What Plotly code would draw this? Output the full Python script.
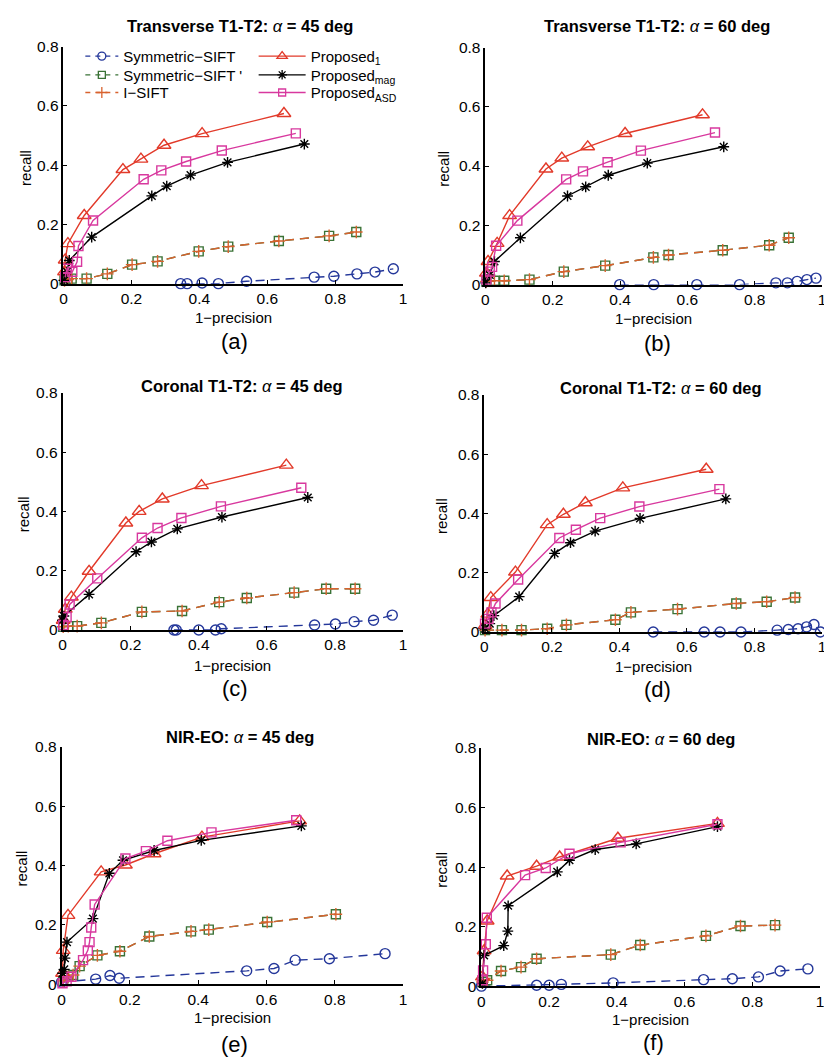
import plotly.graph_objects as go

# ---------------- data ----------------
# panel (a) Transverse T1-T2, 45 deg
a_sym_x = [0.345, 0.364, 0.408, 0.456, 0.539, 0.738, 0.796, 0.864, 0.917, 0.971]
a_sym_y = [0.0, 0.0, 0.002, 0.0, 0.008, 0.022, 0.025, 0.033, 0.039, 0.05]
a_isift_x = [0.003, 0.012, 0.024, 0.068, 0.129, 0.202, 0.277, 0.398, 0.485, 0.634, 0.782, 0.862]
a_isift_y = [0.011, 0.014, 0.017, 0.017, 0.033, 0.064, 0.075, 0.109, 0.125, 0.144, 0.161, 0.174]
a_p1_x = [0.003, 0.005, 0.013, 0.061, 0.175, 0.228, 0.296, 0.408, 0.649]
a_p1_y = [0.04, 0.08, 0.135, 0.23, 0.385, 0.42, 0.467, 0.506, 0.574]
a_mag_x = [0.002, 0.010, 0.017, 0.083, 0.26, 0.304, 0.374, 0.483, 0.709]
a_mag_y = [0.011, 0.04, 0.078, 0.157, 0.296, 0.329, 0.366, 0.409, 0.471]
a_asd_x = [0.005, 0.01, 0.026, 0.04, 0.044, 0.087, 0.236, 0.288, 0.361, 0.466, 0.684]
a_asd_y = [0.022, 0.05, 0.04, 0.074, 0.127, 0.213, 0.352, 0.382, 0.412, 0.449, 0.507]

# panel (b) Transverse T1-T2, 60 deg
b_sym_x = [0.399, 0.5, 0.628, 0.755, 0.863, 0.897, 0.926, 0.955, 0.982]
b_sym_y = [0.0, 0.0, 0.0, 0.0, 0.006, 0.006, 0.011, 0.017, 0.022]
b_isift_x = [0.003, 0.027, 0.056, 0.131, 0.233, 0.356, 0.499, 0.544, 0.705, 0.843, 0.901]
b_isift_y = [0.011, 0.013, 0.013, 0.017, 0.044, 0.064, 0.092, 0.1, 0.116, 0.133, 0.158]
b_p1_x = [0.003, 0.008, 0.035, 0.072, 0.18, 0.227, 0.304, 0.415, 0.645]
b_p1_y = [0.039, 0.078, 0.139, 0.233, 0.39, 0.427, 0.465, 0.51, 0.573]
b_mag_x = [0.001, 0.013, 0.027, 0.104, 0.244, 0.298, 0.365, 0.481, 0.708]
b_mag_y = [0.006, 0.033, 0.078, 0.158, 0.299, 0.33, 0.369, 0.41, 0.465]
b_asd_x = [0.003, 0.013, 0.02, 0.032, 0.095, 0.24, 0.29, 0.363, 0.462, 0.682]
b_asd_y = [0.017, 0.044, 0.06, 0.131, 0.216, 0.355, 0.382, 0.413, 0.452, 0.513]

# panel (c) Coronal T1-T2, 45 deg
c_sym_x = [0.327, 0.334, 0.4, 0.449, 0.466, 0.74, 0.801, 0.856, 0.913, 0.968]
c_sym_y = [0.0, 0.0, 0.0, 0.0, 0.004, 0.017, 0.02, 0.028, 0.033, 0.05]
c_isift_x = [0.002, 0.017, 0.043, 0.114, 0.233, 0.351, 0.46, 0.541, 0.68, 0.774, 0.859]
c_isift_y = [0.011, 0.013, 0.013, 0.024, 0.061, 0.064, 0.094, 0.108, 0.126, 0.139, 0.139]
c_p1_x = [0.002, 0.008, 0.026, 0.078, 0.186, 0.225, 0.293, 0.408, 0.657]
c_p1_y = [0.033, 0.07, 0.111, 0.198, 0.361, 0.4, 0.442, 0.487, 0.556]
c_mag_x = [0.0, 0.004, 0.078, 0.216, 0.261, 0.337, 0.468, 0.72]
c_mag_y = [0.033, 0.047, 0.12, 0.264, 0.297, 0.341, 0.381, 0.447]
c_asd_x = [0.002, 0.012, 0.021, 0.102, 0.233, 0.279, 0.349, 0.465, 0.701]
c_asd_y = [0.017, 0.044, 0.086, 0.174, 0.311, 0.344, 0.378, 0.417, 0.48]

# panel (d) Coronal T1-T2, 60 deg
d_sym_x = [0.5, 0.651, 0.698, 0.76, 0.867, 0.9, 0.929, 0.954, 0.976, 0.995]
d_sym_y = [0.0, 0.0, 0.0, 0.0, 0.006, 0.008, 0.011, 0.017, 0.025, 0.0]
d_isift_x = [0.002, 0.052, 0.11, 0.186, 0.243, 0.388, 0.434, 0.572, 0.746, 0.836, 0.92]
d_isift_y = [0.006, 0.006, 0.006, 0.011, 0.024, 0.041, 0.066, 0.077, 0.096, 0.102, 0.116]
d_p1_x = [0.002, 0.01, 0.019, 0.092, 0.186, 0.234, 0.299, 0.41, 0.657]
d_p1_y = [0.022, 0.06, 0.116, 0.202, 0.362, 0.397, 0.436, 0.486, 0.549]
d_mag_x = [0.002, 0.016, 0.028, 0.103, 0.208, 0.255, 0.328, 0.461, 0.715]
d_mag_y = [0.011, 0.028, 0.055, 0.119, 0.265, 0.301, 0.34, 0.383, 0.449]
d_asd_x = [0.002, 0.012, 0.021, 0.033, 0.1, 0.222, 0.271, 0.343, 0.459, 0.696]
d_asd_y = [0.028, 0.044, 0.066, 0.096, 0.177, 0.317, 0.345, 0.384, 0.423, 0.482]

# panel (e) NIR-EO, 45 deg
e_sym_x = [0.0, 0.1, 0.142, 0.169, 0.542, 0.622, 0.684, 0.784, 0.947]
e_sym_y = [0.007, 0.017, 0.029, 0.02, 0.045, 0.053, 0.081, 0.086, 0.103]
e_isift_x = [0.005, 0.019, 0.034, 0.053, 0.105, 0.171, 0.257, 0.379, 0.431, 0.602, 0.803]
e_isift_y = [0.011, 0.025, 0.031, 0.061, 0.097, 0.111, 0.161, 0.178, 0.184, 0.21, 0.236]
e_p1_x = [0.003, 0.005, 0.019, 0.116, 0.187, 0.271, 0.411, 0.697]
e_p1_y = [0.037, 0.114, 0.232, 0.379, 0.402, 0.44, 0.496, 0.551]
e_mag_x = [0.003, 0.008, 0.01, 0.016, 0.092, 0.14, 0.18, 0.271, 0.409, 0.702]
e_mag_y = [0.037, 0.05, 0.088, 0.142, 0.221, 0.374, 0.418, 0.451, 0.485, 0.534]
e_asd_x = [0.003, 0.015, 0.029, 0.063, 0.077, 0.082, 0.087, 0.097, 0.187, 0.247, 0.31, 0.439, 0.687]
e_asd_y = [0.003, 0.01, 0.025, 0.081, 0.114, 0.142, 0.191, 0.269, 0.424, 0.449, 0.484, 0.512, 0.553]

# panel (f) NIR-EO, 60 deg
f_sym_x = [0.0, 0.163, 0.2, 0.236, 0.389, 0.656, 0.741, 0.818, 0.882, 0.964]
f_sym_y = [0.0, 0.003, 0.003, 0.006, 0.011, 0.022, 0.025, 0.031, 0.051, 0.058]
f_isift_x = [0.003, 0.017, 0.058, 0.117, 0.163, 0.382, 0.469, 0.663, 0.765, 0.867]
f_isift_y = [0.014, 0.02, 0.051, 0.064, 0.092, 0.106, 0.138, 0.169, 0.202, 0.205]
f_p1_x = [0.003, 0.008, 0.017, 0.076, 0.163, 0.231, 0.403, 0.697]
f_p1_y = [0.031, 0.119, 0.219, 0.37, 0.403, 0.434, 0.497, 0.547]
f_mag_x = [0.003, 0.008, 0.066, 0.078, 0.079, 0.224, 0.26, 0.336, 0.457, 0.697]
f_mag_y = [0.009, 0.103, 0.136, 0.185, 0.27, 0.384, 0.423, 0.459, 0.478, 0.536]
f_asd_x = [0.003, 0.005, 0.013, 0.016, 0.129, 0.19, 0.26, 0.411, 0.697]
f_asd_y = [0.02, 0.053, 0.141, 0.23, 0.373, 0.397, 0.445, 0.483, 0.544]

panel_titles = ["Transverse T1-T2", "Transverse T1-T2", "Coronal T1-T2",
                "Coronal T1-T2", "NIR-EO", "NIR-EO"]
panel_angles = [45, 60, 45, 60, 45, 60]
panel_letters = ["(a)", "(b)", "(c)", "(d)", "(e)", "(f)"]
x_ticks = [0, 0.2, 0.4, 0.6, 0.8, 1]
x_tick_text = ["0", "0.2", "0.4", "0.6", "0.8", "1"]
y_ticks = [0, 0.2, 0.4, 0.6, 0.8]
y_tick_text = ["0", "0.2", "0.4", "0.6", "0.8"]

series_names = ["Symmetric\u2212SIFT", "Symmetric\u2212SIFT '", "I\u2212SIFT",
                "Proposed<sub>1</sub>", "Proposed<sub>mag</sub>", "Proposed<sub>ASD</sub>"]

panels = [
    (a_sym_x, a_sym_y, a_isift_x, a_isift_y, a_p1_x, a_p1_y, a_mag_x, a_mag_y, a_asd_x, a_asd_y),
    (b_sym_x, b_sym_y, b_isift_x, b_isift_y, b_p1_x, b_p1_y, b_mag_x, b_mag_y, b_asd_x, b_asd_y),
    (c_sym_x, c_sym_y, c_isift_x, c_isift_y, c_p1_x, c_p1_y, c_mag_x, c_mag_y, c_asd_x, c_asd_y),
    (d_sym_x, d_sym_y, d_isift_x, d_isift_y, d_p1_x, d_p1_y, d_mag_x, d_mag_y, d_asd_x, d_asd_y),
    (e_sym_x, e_sym_y, e_isift_x, e_isift_y, e_p1_x, e_p1_y, e_mag_x, e_mag_y, e_asd_x, e_asd_y),
    (f_sym_x, f_sym_y, f_isift_x, f_isift_y, f_p1_x, f_p1_y, f_mag_x, f_mag_y, f_asd_x, f_asd_y),
]

# ---------------- styles ----------------
# the page body has an 8px margin, so the figure is 8px smaller and shifted
OFF = 8
W, H = 832 - OFF, 1064 - OFF


def px(x):
    return (x - OFF) / W


def py(y):
    return 1 - (y - OFF) / H


FONT = "Liberation Sans, Arial, sans-serif"
BLUE = "#24379a"
GREEN = "#3a7236"
ORANGE = "#d8622e"
RED = "#e23a2a"
BLACK = "#000000"
MAGENTA = "#d8389e"
DASH = "9px,6px"

styles = [
    dict(color=BLUE, dash=DASH, symbol="circle-open", size=10),
    dict(color=GREEN, dash=DASH, symbol="square-open", size=9),
    dict(color=ORANGE, dash=DASH, symbol="cross-thin-open", size=9),
    dict(color=RED, dash="solid", symbol="triangle-up-open", size=12),
    dict(color=BLACK, dash="solid", symbol="asterisk-open", size=9),
    dict(color=MAGENTA, dash="solid", symbol="square-open", size=9),
]
legend_sizes = [8, 7, 8, 9, 8, 7]

# pixel boxes (in the screenshot) of each axes: x0, x1, y_top(0.8), y_bottom(0)
boxes = [
    (60, 403, 38, 279),
    (486, 826, 39, 280),
    (59, 403, 390, 631),
    (485, 826, 392, 633),
    (58, 403, 750, 991),
    (482, 824, 751, 993),
]

fig = go.Figure()
layout = dict(
    width=W, height=H,
    margin=dict(l=0, r=0, t=0, b=0),
    paper_bgcolor="white", plot_bgcolor="white",
    font=dict(family=FONT, size=15, color="black"),
    annotations=[],
)

for k, (box, data) in enumerate(zip(boxes, panels)):
    i = k + 1
    xa = "x" if i == 1 else f"x{i}"
    ya = "y" if i == 1 else f"y{i}"
    x0, x1, yt, yb = box
    axis_common = dict(
        showgrid=False, zeroline=False, showline=True, linecolor="black",
        linewidth=1.6, ticks="inside", ticklen=4, tickwidth=1, tickcolor="black",
        tickfont=dict(size=15.5, family=FONT, color="black"), mirror=False,
    )
    layout["xaxis" if i == 1 else f"xaxis{i}"] = dict(
        axis_common, domain=[px(x0), px(x1)], range=[0, 1],
        tickvals=x_ticks, ticktext=x_tick_text, anchor=ya,
    )
    layout["yaxis" if i == 1 else f"yaxis{i}"] = dict(
        axis_common, domain=[py(yb), py(yt)], range=[0, 0.8],
        tickvals=y_ticks, ticktext=y_tick_text, anchor=xa,
    )
    xs = [data[0], data[2], data[2], data[4], data[6], data[8]]
    ys = [data[1], data[3], data[3], data[5], data[7], data[9]]
    for s, (sx, sy, st) in enumerate(zip(xs, ys, styles)):
        fig.add_trace(go.Scatter(
            x=sx, y=sy, xaxis=xa, yaxis=ya, mode="lines+markers",
            line=dict(color=st["color"], dash=st["dash"], width=1.4),
            marker=dict(symbol=st["symbol"], size=st["size"], color=st["color"],
                        line=dict(color=st["color"], width=1.4)),
            cliponaxis=False, showlegend=False, hoverinfo="skip",
        ))
    title_x = [238, 659, 240, 663, 238, 663][k]
    title_y = [17, 17, 383, 385, 740, 742][k]
    layout["annotations"].append(dict(
        text=f"<b>{panel_titles[k]}: </b><i>\u03b1</i><b> = {panel_angles[k]} deg</b>",
        x=px(title_x), y=py(title_y), xref="paper", yref="paper",
        xanchor="center", yanchor="middle", showarrow=False,
        font=dict(size=16.5, family=FONT, color="black"),
    ))
    xlab_y = [313, 314, 667, 668, 1025, 1027][k]
    layout["annotations"].append(dict(
        text="1\u2212precision", x=px((x0 + x1) / 2), y=py(xlab_y),
        xref="paper", yref="paper", xanchor="center", yanchor="middle",
        showarrow=False, font=dict(size=15, family=FONT, color="black"),
    ))
    ylab_x = [21, 443, 19, 442, 18, 441][k]
    layout["annotations"].append(dict(
        text="recall", x=px(ylab_x), y=py((yt + yb) / 2 + 3),
        xref="paper", yref="paper", xanchor="center", yanchor="middle",
        textangle=-90, showarrow=False, font=dict(size=15, family=FONT, color="black"),
    ))
    lab_x = [233, 660, 233, 660, 233, 656][k]
    lab_y = [338, 340, 690, 692, 1052, 1050][k]
    layout["annotations"].append(dict(
        text=panel_letters[k], x=px(lab_x), y=py(lab_y),
        xref="paper", yref="paper", xanchor="center", yanchor="middle",
        showarrow=False, font=dict(size=22, family=FONT, color="black"),
    ))

# legend-only entries (smaller markers, as in the original legend), one legend per row
legend_ids = ["legend", "legend2", "legend3", "legend4", "legend5", "legend6"]
legend_pos = [(77, 48), (77, 67), (77, 85), (252, 48), (252, 67), (252, 85)]
legend_itemw = [33, 33, 33, 47, 47, 47]
for s, (name, st, ls) in enumerate(zip(series_names, styles, legend_sizes)):
    fig.add_trace(go.Scatter(
        x=[None], y=[None], xaxis="x", yaxis="y", mode="lines+markers", name=name,
        line=dict(color=st["color"], dash="5px,5px" if st["dash"] != "solid" else "solid", width=1.3),
        marker=dict(symbol=st["symbol"], size=ls, color=st["color"],
                    line=dict(color=st["color"], width=1.3)),
        legend=legend_ids[s], showlegend=True,
    ))
    lx, ly = legend_pos[s]
    layout[legend_ids[s]] = dict(
        x=px(lx), y=py(ly), xanchor="left", yanchor="middle",
        bgcolor="rgba(0,0,0,0)", font=dict(size=15, family=FONT, color="black"),
        itemwidth=legend_itemw[s], borderwidth=0,
    )

fig.update_layout(**layout)
fig.write_html("out.html")
